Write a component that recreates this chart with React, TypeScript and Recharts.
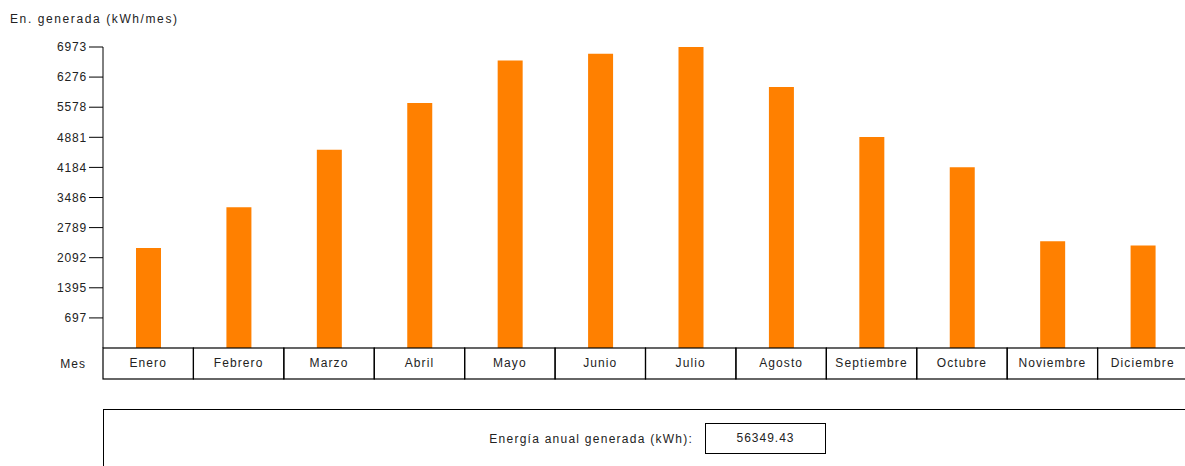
import React from "react";
import { BarChart, Bar, XAxis, YAxis } from "recharts";

const months = ["Enero", "Febrero", "Marzo", "Abril", "Mayo", "Junio", "Julio", "Agosto", "Septiembre", "Octubre", "Noviembre", "Diciembre"];
const energy = [2319, 3259, 4595, 5676, 6662, 6817, 6973, 6046, 4889, 4185, 2472, 2373];
const yTicks = [697, 1395, 2092, 2789, 3486, 4184, 4881, 5578, 6276, 6973];
const yMax = 6973;
const annualTotal = "56349.43";
const yTitle = "En. generada (kWh/mes)";
const xTitle = "Mes";
const annualLabel = "Energía anual generada (kWh):";

const data = months.map((m, i) => ({ month: m, value: energy[i] }));

const FONT = "'Liberation Sans', Arial, sans-serif";
const TEXT = "#222";

const MonthCell = (props: any) => {
  const { x, y, payload } = props;
  const bw = payload && payload.offset ? payload.offset * 2 : 90.4;
  return (
    <g>
      <rect
        x={x - bw / 2}
        y={y}
        width={bw}
        height={31}
        fill="none"
        stroke="#000"
        strokeWidth={1.2}
      />
      <text
        x={x}
        y={y + 16}
        textAnchor="middle"
        dominantBaseline="middle"
        fontSize={12}
        fontFamily={FONT}
        letterSpacing={1.1}
        fill={TEXT}
      >
        {payload.value}
      </text>
    </g>
  );
};

export default function App() {
  return (
    <div
      style={{
        position: "fixed",
        left: 0,
        top: 0,
        width: 1185,
        height: 466,
        overflow: "hidden",
        background: "#fff",
        fontFamily: FONT,
      }}
    >
      <div
        style={{
          position: "absolute",
          left: 10,
          top: 12,
          fontSize: 12,
          lineHeight: "14px",
          letterSpacing: 1.6,
          color: TEXT,
          whiteSpace: "nowrap",
        }}
      >
        {yTitle}
      </div>
      <div style={{ position: "absolute", left: 0, top: 0 }}>
        <BarChart
          width={1190}
          height={381}
          data={data}
          margin={{ top: 47, right: 2, bottom: 2, left: 0 }}
        >
          <XAxis
            dataKey="month"
            height={31}
            axisLine={false}
            tickLine={false}
            tickSize={0}
            tickMargin={0}
            interval={0}
            tick={<MonthCell />}
            label={{
              value: xTitle,
              position: "left",
              offset: 17,
              fill: TEXT,
              fontSize: 12,
              fontFamily: FONT,
              letterSpacing: 1,
            }}
          />
          <YAxis
            width={103}
            domain={[0, yMax]}
            ticks={yTicks}
            interval={0}
            tickSize={14}
            tickMargin={2}
            stroke="#000"
            tick={{ fill: TEXT, fontSize: 12, fontFamily: FONT, letterSpacing: 0.8 }}
            allowDataOverflow
          />
          <Bar dataKey="value" fill="#FF8000" barSize={25} isAnimationActive={false} />
        </BarChart>
      </div>
      <div
        style={{
          position: "absolute",
          left: 103,
          top: 409,
          width: 1200,
          height: 100,
          borderTop: "1.5px solid #000",
          borderLeft: "1.5px solid #000",
        }}
      />
      <div
        style={{
          position: "absolute",
          right: 1185 - 693,
          top: 432,
          fontSize: 12,
          lineHeight: "14px",
          letterSpacing: 1.25,
          color: TEXT,
          whiteSpace: "nowrap",
        }}
      >
        {annualLabel}
      </div>
      <div
        style={{
          position: "absolute",
          left: 705,
          top: 423,
          width: 119,
          height: 29,
          border: "1.5px solid #000",
          fontSize: 12,
          lineHeight: "29px",
          letterSpacing: 1,
          textAlign: "center",
          color: TEXT,
        }}
      >
        {annualTotal}
      </div>
    </div>
  );
}
